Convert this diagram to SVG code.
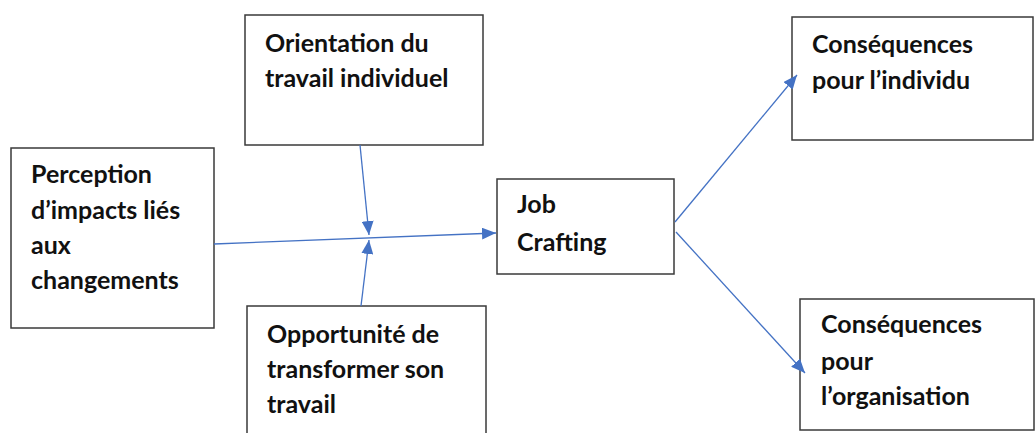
<svg xmlns="http://www.w3.org/2000/svg" width="1035" height="433" viewBox="0 0 1035 433">
<style>
.box{fill:#fff;stroke:#3a3a3a;stroke-width:1.5}
.t{font-family:Lato,"Liberation Sans",sans-serif;font-weight:bold;font-size:25px;fill:#111}
.c{stroke:#4472C4;stroke-width:1.3;fill:none}
</style>
<defs>
<marker id="ahL" viewBox="0 0 14 12" refX="14" refY="6" markerWidth="14" markerHeight="12" markerUnits="userSpaceOnUse" orient="auto">
<path d="M0,0 L14,6 L0,12 z" fill="#4472C4"/>
</marker>
</defs>
<rect width="1035" height="433" fill="#fff"/>
<g id="perception">
<rect class="box" x="11" y="148" width="203" height="180"/>
<text class="t" x="31" y="183">Perception</text>
<text class="t" x="31" y="219">d’impacts liés</text>
<text class="t" x="31" y="254">aux</text>
<text class="t" x="31" y="289">changements</text>
</g>
<g id="orientation">
<rect class="box" x="245" y="15" width="238" height="130"/>
<text class="t" x="265" y="52">Orientation du</text>
<text class="t" x="265" y="87">travail individuel</text>
</g>
<g id="opportunite">
<rect class="box" x="247" y="306" width="239" height="140"/>
<text class="t" x="267" y="343">Opportunité de</text>
<text class="t" x="267" y="378">transformer son</text>
<text class="t" x="267" y="413">travail</text>
</g>
<g id="jobcrafting">
<rect class="box" x="497" y="179" width="177" height="95"/>
<text class="t" x="517" y="213">Job</text>
<text class="t" x="517" y="251">Crafting</text>
</g>
<g id="individu">
<rect class="box" x="792" y="17" width="241" height="123"/>
<text class="t" x="812" y="53">Conséquences</text>
<text class="t" x="812" y="89">pour l’individu</text>
</g>
<g id="organisation">
<rect class="box" x="800" y="299" width="234" height="131"/>
<text class="t" x="821" y="333">Conséquences</text>
<text class="t" x="821" y="370">pour</text>
<text class="t" x="821" y="405">l’organisation</text>
</g>
<g id="connectors">
<line class="c" x1="214" y1="244" x2="496" y2="233" marker-end="url(#ahL)"/>
<line class="c" x1="360" y1="145" x2="369" y2="235" marker-end="url(#ahL)"/>
<line class="c" x1="361" y1="306" x2="369" y2="240" marker-end="url(#ahL)"/>
<line class="c" x1="675" y1="222" x2="797" y2="75" marker-end="url(#ahL)"/>
<line class="c" x1="676" y1="232" x2="805" y2="373" marker-end="url(#ahL)"/>
</g>
</svg>
